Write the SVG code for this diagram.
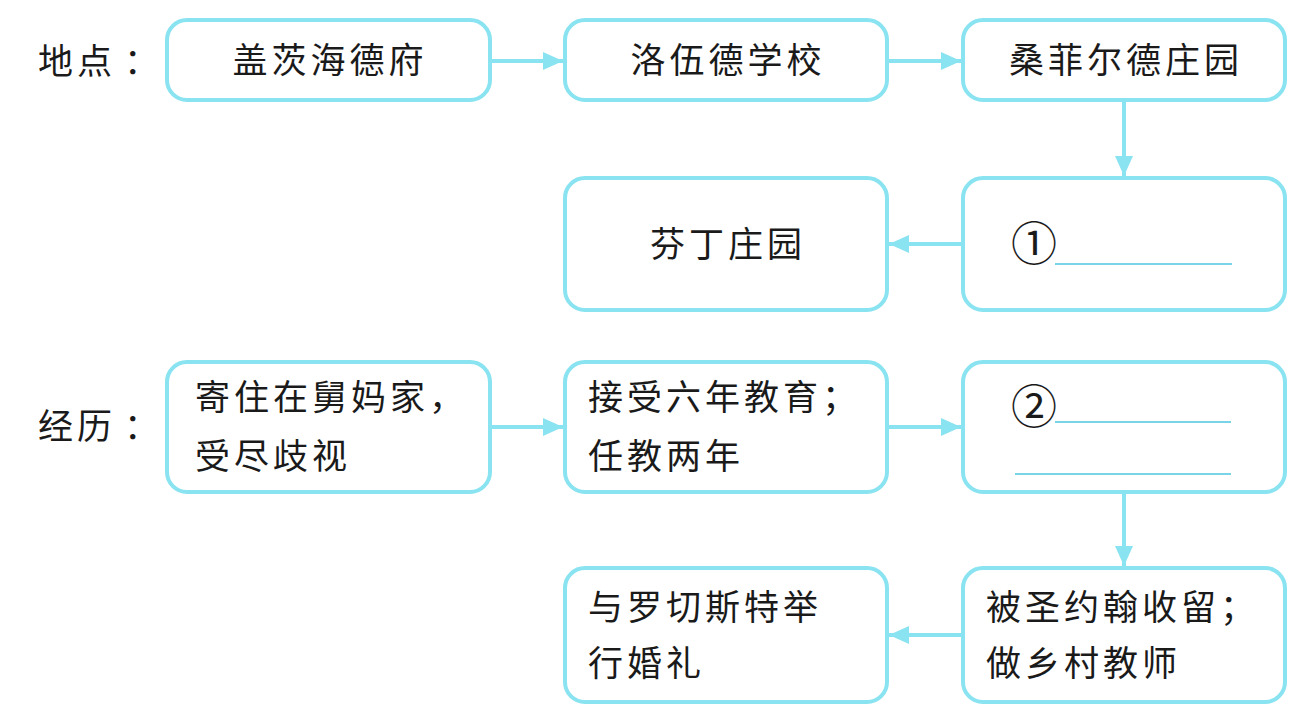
<svg xmlns="http://www.w3.org/2000/svg" width="1309" height="715" viewBox="0 0 1309 715">
<style>
.box{fill:#fff;stroke:#8ae3f0;stroke-width:4}
.t{font-family:"Noto Sans CJK SC","Noto Sans CJK JP",sans-serif;font-size:35px;fill:#1a1a1a;letter-spacing:4px}
.c{text-anchor:middle}
.conn{stroke:#8ae3f0;stroke-width:4;fill:none}
.ul{stroke:#4cc6df;stroke-width:1.6}
.num{font-family:"Noto Sans CJK SC",sans-serif;font-size:46px;fill:#1a1a1a}
</style>
<defs>
<marker id="ah" markerUnits="userSpaceOnUse" markerWidth="22" markerHeight="18" refX="20" refY="9" orient="auto">
<path d="M0,0 L20,9 L0,18 z" fill="#8ae3f0"/>
</marker>
</defs>
<rect width="1309" height="715" fill="#fff"/>
<g id="labels">
<text class="t" x="38" y="74">地点</text><text class="t" x="124" y="74">：</text>
<text class="t" x="38" y="439">经历</text><text class="t" x="124" y="439">：</text>
</g>
<g id="connectors">
<line class="conn" x1="490" y1="61" x2="563" y2="61" marker-end="url(#ah)"/>
<line class="conn" x1="887" y1="61" x2="961" y2="61" marker-end="url(#ah)"/>
<line class="conn" x1="1124" y1="100" x2="1124" y2="176" marker-end="url(#ah)"/>
<line class="conn" x1="963" y1="244" x2="889" y2="244" marker-end="url(#ah)"/>
<line class="conn" x1="490" y1="427" x2="563" y2="427" marker-end="url(#ah)"/>
<line class="conn" x1="887" y1="427" x2="961" y2="427" marker-end="url(#ah)"/>
<line class="conn" x1="1124" y1="492" x2="1124" y2="566" marker-end="url(#ah)"/>
<line class="conn" x1="963" y1="635" x2="889" y2="635" marker-end="url(#ah)"/>
</g>
<g id="n1"><rect class="box" x="167" y="20" width="323" height="80" rx="20"/><text class="t c" x="330" y="73">盖茨海德府</text></g>
<g id="n2"><rect class="box" x="565" y="20" width="322" height="80" rx="20"/><text class="t c" x="728" y="73">洛伍德学校</text></g>
<g id="n3"><rect class="box" x="963" y="20" width="322" height="80" rx="20"/><text class="t c" x="1126" y="73">桑菲尔德庄园</text></g>
<g id="n4"><rect class="box" x="963" y="178" width="322" height="132" rx="20"/><text class="num" x="1011" y="260">①</text><line class="ul" x1="1055" y1="264" x2="1232" y2="264"/></g>
<g id="n5"><rect class="box" x="565" y="178" width="322" height="132" rx="20"/><text class="t c" x="728" y="257">芬丁庄园</text></g>
<g id="n6"><rect class="box" x="167" y="362" width="323" height="130" rx="20"/><text class="t" x="195" y="410">寄住在舅妈家，</text><text class="t" x="195" y="469">受尽歧视</text></g>
<g id="n7"><rect class="box" x="565" y="362" width="322" height="130" rx="20"/><text class="t" x="588" y="410">接受六年教育；</text><text class="t" x="588" y="469">任教两年</text></g>
<g id="n8"><rect class="box" x="963" y="362" width="322" height="130" rx="20"/><text class="num" x="1011" y="423">②</text><line class="ul" x1="1055" y1="422" x2="1231" y2="422"/><line class="ul" x1="1015" y1="474" x2="1231" y2="474"/></g>
<g id="n9"><rect class="box" x="963" y="568" width="322" height="134" rx="20"/><text class="t" x="986" y="620">被圣约翰收留；</text><text class="t" x="986" y="676">做乡村教师</text></g>
<g id="n10"><rect class="box" x="565" y="568" width="322" height="134" rx="20"/><text class="t" x="588" y="620">与罗切斯特举</text><text class="t" x="588" y="676">行婚礼</text></g>
</svg>
